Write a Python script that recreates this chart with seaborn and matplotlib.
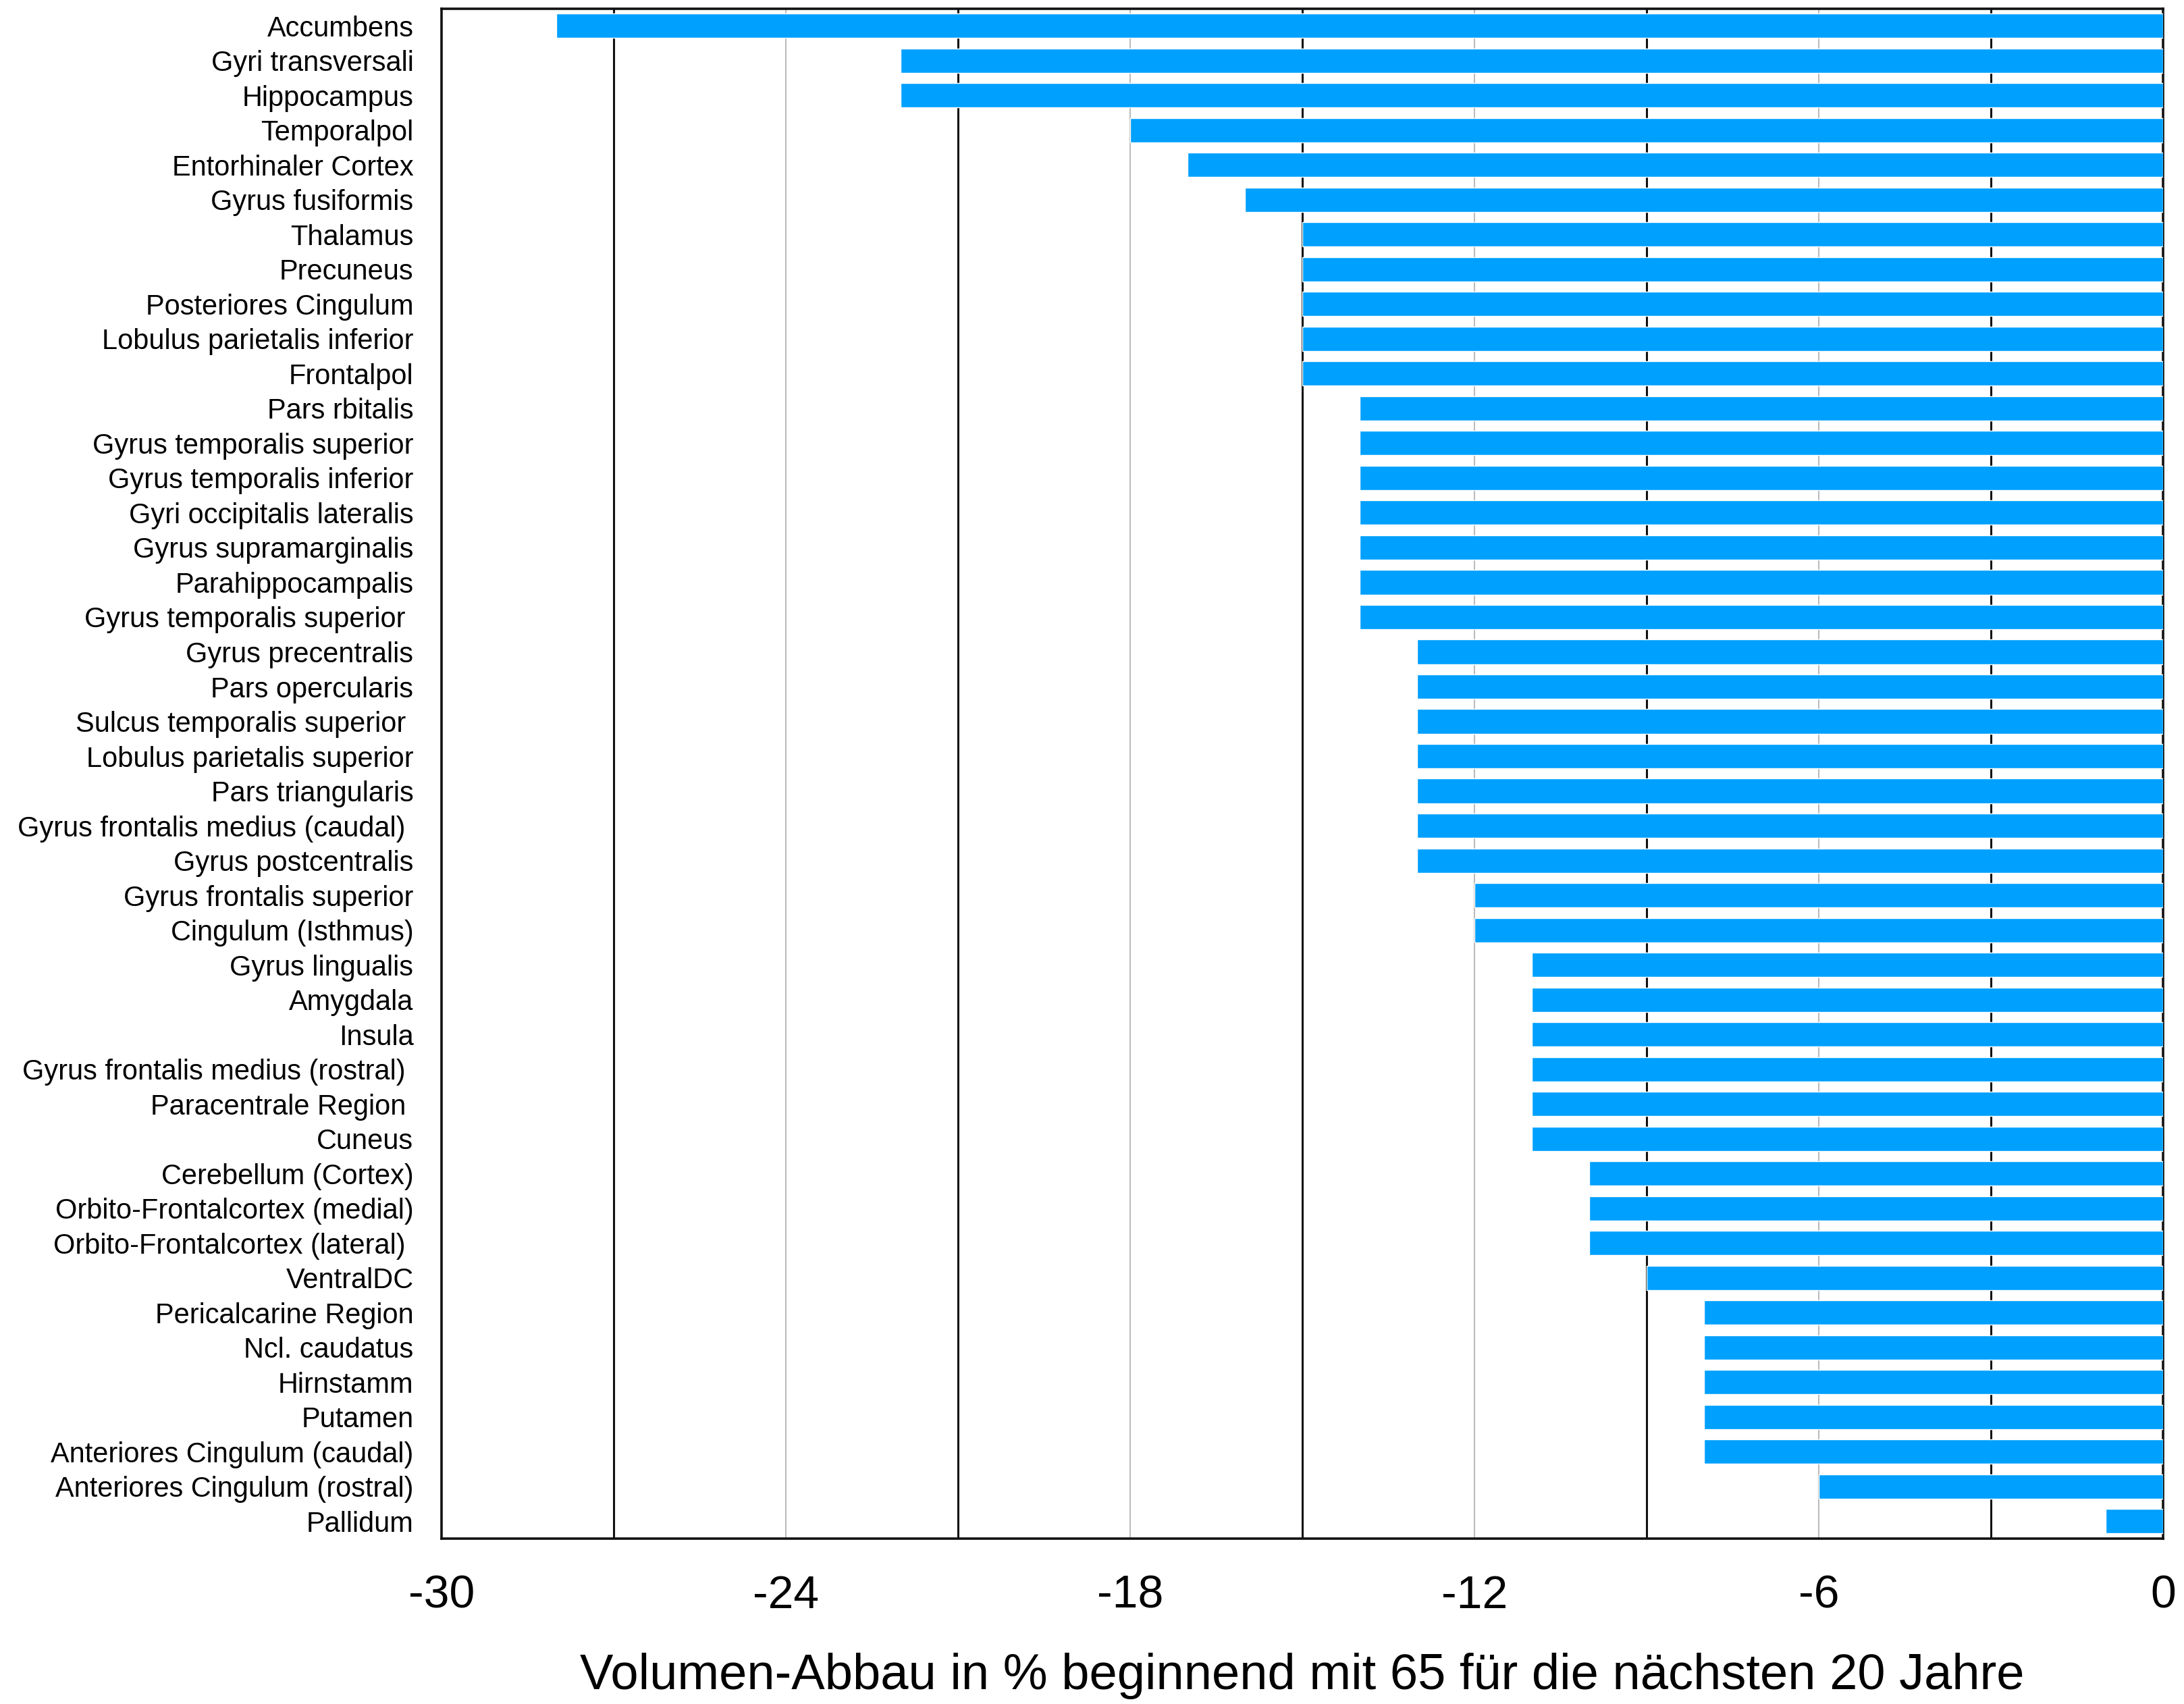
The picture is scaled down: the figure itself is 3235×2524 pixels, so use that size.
import matplotlib
matplotlib.use("Agg")
import matplotlib.pyplot as plt
from matplotlib.ticker import FixedLocator
import seaborn as sns
import pandas as pd

regions = [
    "Accumbens", "Gyri transversali", "Hippocampus", "Temporalpol",
    "Entorhinaler Cortex", "Gyrus fusiformis", "Thalamus", "Precuneus",
    "Posteriores Cingulum", "Lobulus parietalis inferior", "Frontalpol",
    "Pars rbitalis", "Gyrus temporalis superior", "Gyrus temporalis inferior",
    "Gyri occipitalis lateralis", "Gyrus supramarginalis", "Parahippocampalis",
    "Gyrus temporalis superior ", "Gyrus precentralis", "Pars opercularis",
    "Sulcus temporalis superior ", "Lobulus parietalis superior",
    "Pars triangularis", "Gyrus frontalis medius (caudal) ",
    "Gyrus postcentralis", "Gyrus frontalis superior", "Cingulum (Isthmus)",
    "Gyrus lingualis", "Amygdala", "Insula",
    "Gyrus frontalis medius (rostral) ", "Paracentrale Region ", "Cuneus",
    "Cerebellum (Cortex)", "Orbito-Frontalcortex (medial)",
    "Orbito-Frontalcortex (lateral) ", "VentralDC", "Pericalcarine Region",
    "Ncl. caudatus", "Hirnstamm", "Putamen", "Anteriores Cingulum (caudal)",
    "Anteriores Cingulum (rostral)", "Pallidum",
]
values = [
    -28, -22, -22, -18, -17, -16, -15, -15, -15, -15, -15,
    -14, -14, -14, -14, -14, -14, -14,
    -13, -13, -13, -13, -13, -13, -13,
    -12, -12,
    -11, -11, -11, -11, -11, -11,
    -10, -10, -10,
    -9,
    -8, -8, -8, -8, -8,
    -6, -1,
]
major_ticks = [-30, -24, -18, -12, -6, 0]
minor_ticks = [-27, -21, -15, -9, -3]
x_label = "Volumen-Abbau in % beginnend mit 65 für die nächsten 20 Jahre"

df = pd.DataFrame({"region": regions, "value": values})

sns.set_theme(style="white")
plt.rcParams["font.family"] = ["Liberation Sans", "DejaVu Sans"]

fig = plt.figure(figsize=(32.35, 25.24), dpi=100)
ax = fig.add_axes([0.2022, 0.0971, 0.9904 - 0.2022, 0.995 - 0.0971])

sns.barplot(data=df, x="value", y="region", orient="h", color="#00A0FF",
            saturation=1, width=0.7, ax=ax, zorder=3)

ax.set_xlim(-30, 0)
ax.set_ylim(len(regions) - 0.5, -0.5)
ax.xaxis.set_major_locator(FixedLocator(major_ticks))
ax.xaxis.set_minor_locator(FixedLocator(minor_ticks))
ax.set_xticklabels([str(t) for t in major_ticks])
ax.grid(False)
ax.grid(True, axis="x", which="major", color="#BBBBBB", linewidth=1.5, zorder=0)
ax.grid(True, axis="x", which="minor", color="#111111", linewidth=2.2, zorder=0)
ax.set_axisbelow(True)

ax.tick_params(axis="x", which="both", length=0, pad=38, labelsize=49, labelcolor="black")
ax.tick_params(axis="y", length=0, pad=30, labelsize=29.9, labelcolor="black")
ax.set_ylabel("")
ax.set_xlabel(x_label, fontsize=53.4, labelpad=38, color="black")

for s in ax.spines.values():
    s.set_visible(True)
    s.set_color("#111111")
    s.set_linewidth(2.6)

fig.savefig("out.png", dpi=100, facecolor="white")
